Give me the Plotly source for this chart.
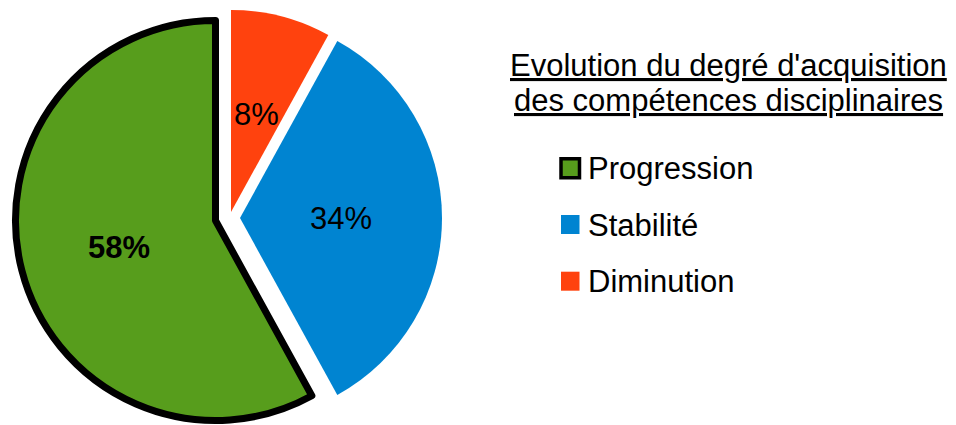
import math
import plotly.graph_objects as go

# ---- data ----
labels = ["Progression", "Stabilité", "Diminution"]
values = [58, 34, 8]
colors = ["#579D1C", "#0084D1", "#FF420E"]
legend_title_lines = ["Evolution du degré d'acquisition", "des compétences disciplinaires"]

# ---- layout constants (pixels, in page coordinates) ----
PAGE_W, PAGE_H = 956, 425
OFF = 8  # default body margin of the html page
W, H = PAGE_W - OFF, PAGE_H - OFF
FONT = "Liberation Sans, Arial, sans-serif"
FS = 31
# exploded slice centres and radii (page px) keyed by label
slice_geom = {
    "Progression": (215.5, 220.5, 200.0),
    "Stabilité": (240.0, 218.0, 202.0),
    "Diminution": (231.0, 212.0, 202.0),
}
bordered = {"Progression": 7}
bold_labels = {"Progression"}


def px(x):
    return (x - OFF) / W


def py(y):
    return (H - (y - OFF)) / H


def dom(cx, cy, r):
    return dict(x=[px(cx - r), px(cx + r)], y=[py(cy + r), py(cy - r)])


# pie runs clockwise from 12 o'clock: Diminution, Stabilité, Progression
pie_labels = labels[::-1]
pie_values = values[::-1]
pie_colors = colors[::-1]
total = sum(values)

fig = go.Figure()
annotations = []
cum = 0.0
for k, lab in enumerate(pie_labels):
    cx, cy, r = slice_geom[lab]
    fig.add_trace(go.Pie(
        labels=pie_labels,
        values=pie_values,
        sort=False,
        direction="clockwise",
        rotation=0,
        marker=dict(
            colors=[pie_colors[i] if i == k else "rgba(0,0,0,0)" for i in range(3)],
            line=dict(color="black",
                      width=[bordered.get(lab, 0) if i == k else 0 for i in range(3)]),
        ),
        textinfo="none",
        domain=dom(cx, cy, r),
        showlegend=False,
        hoverinfo="label+percent",
    ))
    # percentage label at half radius on the slice bisector
    frac = pie_values[k] / total
    mid = 2 * math.pi * (cum + frac / 2)
    cum += frac
    tx = cx + 0.5 * r * math.sin(mid)
    ty = cy - 0.5 * r * math.cos(mid) + (2.0 if lab in bold_labels else 0.0)
    pct = f"{frac * 100:.0f}%"
    annotations.append(dict(
        text=f"<b>{pct}</b>" if lab in bold_labels else pct,
        x=px(tx), y=py(ty), xref="paper", yref="paper",
        xanchor="center", yanchor="middle", showarrow=False,
        font=dict(family=FONT, size=FS, color="black"),
    ))

# ---- custom legend ----
title_y = [65.5, 100.5]
for line, yy in zip(legend_title_lines, title_y):
    annotations.append(dict(
        text=f"<u>{line}</u>", x=px(728.5), y=py(yy), xref="paper", yref="paper",
        xanchor="center", yanchor="middle", showarrow=False,
        font=dict(family=FONT, size=FS, color="black"),
    ))

shapes = []
item_y = [168.3, 224.5, 281.2]
for lab, col, yy in zip(labels, colors, item_y):
    lw = 3.5 if lab in bordered else 0
    shapes.append(dict(
        type="rect", xref="paper", yref="paper",
        x0=px(561), x1=px(579.5), y0=py(yy + 9.5), y1=py(yy - 9.5),
        fillcolor=col, line=dict(color="black", width=lw),
    ))
    annotations.append(dict(
        text=lab, x=px(586), y=py(yy + 0.5), xref="paper", yref="paper",
        xanchor="left", yanchor="middle", showarrow=False,
        font=dict(family=FONT, size=FS, color="black"),
    ))

fig.update_layout(
    width=W, height=H,
    margin=dict(l=0, r=0, t=0, b=0, pad=0),
    paper_bgcolor="white", plot_bgcolor="white",
    annotations=annotations, shapes=shapes,
    showlegend=False,
)
fig.write_html("out.html")
